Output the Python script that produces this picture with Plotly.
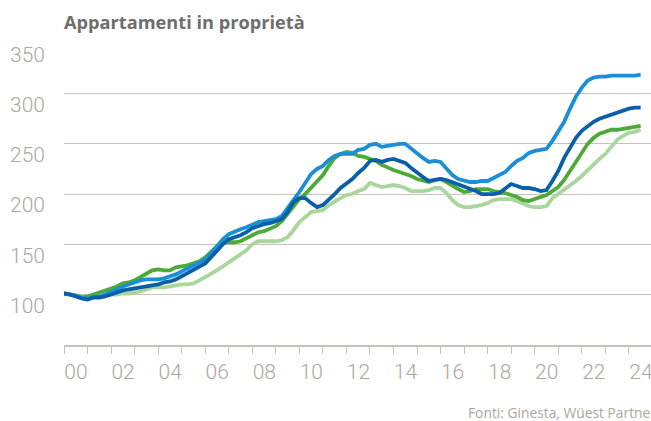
import plotly.graph_objects as go

years = [2000 + i / 4 for i in range(99)]

light_blue = [101,100,99,97,96,97,98,100,103,106,108,110,112,114,115,115,115,116,118,120,
              123,126,128,131,135,141,148,155,160,163,165,167,170,172,173,174,175,178,186,193,
              202,211,220,225,228,234,238,240,240,240,244,245,249,250,247,248,249,250,250,245,
              240,236,232,233,232,226,219,215,213,212,212,213,213,216,220,222,228,233,236,241,
              243,244,245,253,262,272,285,297,306,313,316,317,317,318,318,318,318,318,319]

dark_blue = [101,100,98,96,95,97,97,98,100,102,104,105,106,107,108,109,110,112,113,115,
             118,121,124,127,131,137,144,150,155,157,159,162,166,168,170,171,173,175,182,192,
             196,196,191,187,189,194,200,206,210,215,221,226,233,234,232,234,235,233,231,226,
             221,217,213,214,215,214,212,209,207,205,203,200,200,200,201,205,210,208,206,206,
             205,203,204,213,223,236,247,256,263,268,272,275,277,279,282,284,285,286,286]

green = [101,100,99,97,98,100,102,104,106,108,111,112,114,117,121,124,125,124,124,127,
         128,129,131,133,137,143,148,152,152,152,153,156,160,162,163,165,168,173,180,188,
         195,200,206,212,219,228,236,240,242,241,238,237,235,233,229,226,224,222,220,218,
         215,213,212,214,215,212,208,205,202,203,205,205,205,203,202,201,199,197,194,193,
         195,197,199,203,207,214,223,233,242,250,256,260,262,264,264,265,266,267,268]

light_green = [101,100,99,98,97,98,98,99,100,100,101,101,102,103,105,107,107,107,108,109,
               110,110,111,114,117,120,124,128,132,136,139,144,150,153,153,153,153,154,157,164,
               172,177,182,183,184,189,193,196,199,200,203,205,211,209,207,208,209,208,206,203,
               203,203,204,206,206,201,194,189,187,187,188,189,191,194,195,195,195,193,190,188,
               187,187,188,196,200,204,208,213,218,224,229,235,240,247,254,258,261,262,264]

y_ticks = [100, 150, 200, 250, 300, 350]
x_ticks = list(range(2000, 2026))
x_labels = [f"{y % 100:02d}" if y % 2 == 0 else "" for y in x_ticks]

series = [
    ("light_green", light_green, "#a9d69c"),
    ("green", green, "#4caa36"),
    ("light_blue", light_blue, "#1a8fd6"),
    ("dark_blue", dark_blue, "#0b5ea8"),
]

fig = go.Figure()
for name, vals, col in series:
    fig.add_trace(go.Scatter(x=years, y=vals, mode="lines", name=name,
                             line=dict(color=col, width=3.8), hoverinfo="skip"))

grid = "#c9c2bb"
tickcol = "#aea69e"

fig.update_layout(
    width=651, height=421,
    margin=dict(l=64, r=0, t=43, b=76, autoexpand=False),
    paper_bgcolor="white", plot_bgcolor="white",
    showlegend=False,
    hovermode=False,
    font=dict(family="Roboto, Arial, sans-serif"),
    xaxis=dict(range=[2000, 2024.94], tickvals=x_ticks, ticktext=x_labels,
               ticks="outside", ticklen=7, tickwidth=1.3, tickcolor=grid,
               showline=True, linecolor=grid, linewidth=2, showgrid=False,
               zeroline=False, ticklabelshift=12, ticklabelstandoff=0,
               ticklabeloverflow="allow", automargin=False,
               tickfont=dict(size=21, color=tickcol, family="Roboto", weight=300)),
    yaxis=dict(range=[49.7, 350.4], tickvals=y_ticks, showgrid=True, gridcolor=grid,
               gridwidth=1.3, zeroline=False, showline=False, ticks="",
               ticklabelshift=11, ticklabelstandoff=18, automargin=False,
               tickfont=dict(size=21, color=tickcol, family="Roboto", weight=300)),
    annotations=[
        dict(text="<b>Appartamenti in proprietà</b>", xref="paper", yref="paper",
             x=-0.0034, y=1.0695, xanchor="left", yanchor="middle", showarrow=False,
             font=dict(size=18.2, color="#6e6e6e", family="Open Sans")),
        dict(text="Fonti: Ginesta, Wüest Partner", xref="paper", yref="paper",
             x=(466 - 64) / 587, y=-0.225, xanchor="left", yanchor="middle",
             showarrow=False, font=dict(size=13.8, color="#ada59c", family="Open Sans")),
    ],
)

fig.write_html("out.html", config={"displayModeBar": False},
               post_script="document.body.style.margin='0';")
